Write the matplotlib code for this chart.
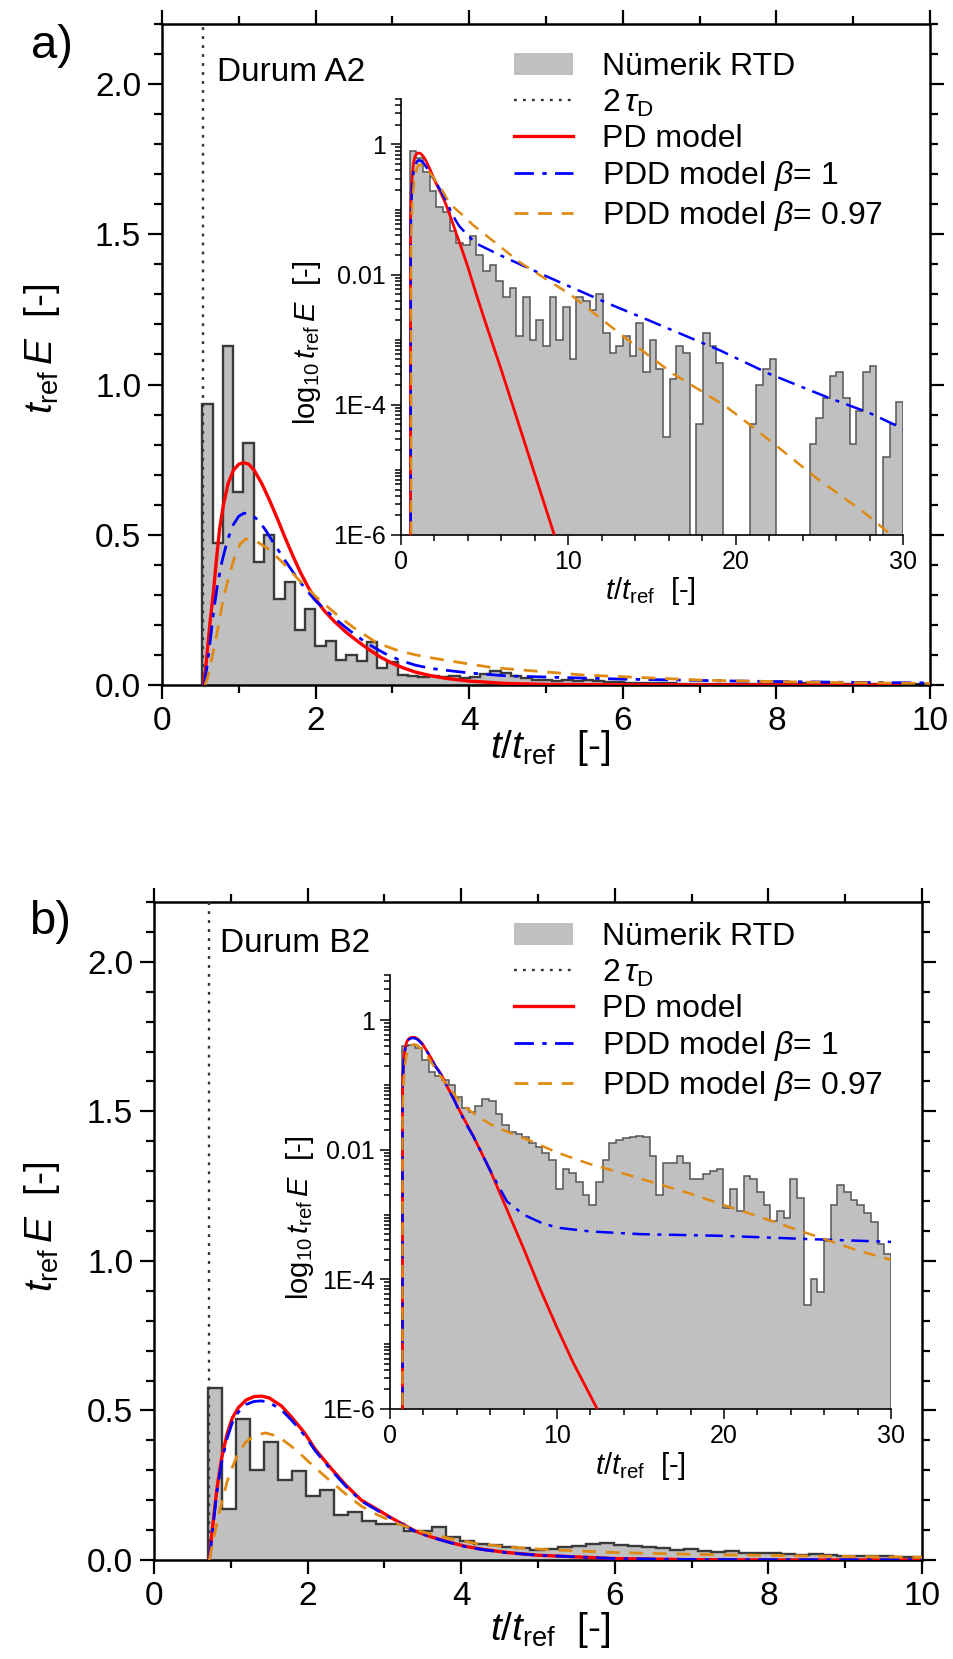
import numpy as np
import matplotlib
matplotlib.use('Agg')
import matplotlib.pyplot as plt
from matplotlib.patches import Patch
from matplotlib.lines import Line2D
from matplotlib.ticker import MultipleLocator, FixedLocator, FixedFormatter, LogLocator, NullFormatter, FormatStrFormatter

plt.rcParams['font.family'] = ['Liberation Sans', 'DejaVu Sans']
plt.rcParams['mathtext.fontset'] = 'custom'
plt.rcParams['mathtext.rm'] = 'Liberation Sans'
plt.rcParams['mathtext.it'] = 'Liberation Sans:italic'
plt.rcParams['mathtext.bf'] = 'Liberation Sans:bold'

# ---------------- data : panel a (Durum A2) ----------------
a_tau = 0.53
a_hist_start = 0.524
a_hist_width = 0.134
a_hist = [0.936, 0.472, 1.128, 0.641, 0.806, 0.409, 0.498, 0.286, 0.343, 0.183,
          0.252, 0.131, 0.147, 0.083, 0.099, 0.080, 0.144, 0.056, 0.078, 0.033,
          0.030, 0.028, 0.030, 0.025, 0.030, 0.024, 0.027, 0.038, 0.045, 0.040,
          0.030, 0.022, 0.018, 0.015, 0.013, 0.016, 0.014, 0.015, 0.012, 0.010,
          0.009, 0.008, 0.007, 0.008, 0.006, 0.006, 0.004, 0.003, 0.004, 0.004,
          0.003, 0.003, 0.002, 0.004, 0.003, 0.003, 0.004, 0.004, 0.005, 0.004,
          0.003, 0.004, 0.003, 0.002, 0.003, 0.002, 0.002, 0.003, 0.002, 0.002,
          0.002]
a_inset_start = 0.52
a_inset_log = [-0.1, -0.21, -0.43, -0.72, -0.96, -1.03, -1.33, -1.52, -1.55, -1.4,
               -1.7, -1.95, -1.85, -2.1, -2.35, -2.2, -2.95, -2.35, -3.0, -2.7,
               -3.1, -2.35, -3.0, -2.5, -3.3, -2.35, -2.4, -2.55, -2.3, -2.9,
               -3.2, -3.1, -2.95, -3.25, -2.75, -3.5, -3.0, -3.45, -4.5, -3.6,
               -3.1, -3.2, np.nan, -4.3, -2.9, -3.1, -3.35, np.nan, np.nan, np.nan,
               np.nan, -4.3, -3.7, -3.45, -3.3, np.nan, np.nan, np.nan, np.nan, np.nan,
               -4.6, -4.2, -3.9, -3.55, -3.5, -3.9, -4.6, -4.1, -3.5, -3.4,
               np.nan, -4.8, -4.3, -3.95]
a_pd_x = [0.54, 0.57, 0.60, 0.63, 0.67, 0.71, 0.75, 0.80, 0.86, 0.93, 1.0, 1.06, 1.13,
          1.2, 1.3, 1.4, 1.5, 1.6, 1.7, 1.8, 1.9, 2.0, 2.12, 2.25, 2.4, 2.55, 2.7,
          2.85, 3.0, 3.15, 3.3, 3.5, 3.7, 4.0, 4.5, 5.0, 6.0, 7.0, 8.0, 9.0, 9.6]
a_pd_y = [0.0, 0.06, 0.14, 0.22, 0.31, 0.42, 0.52, 0.60, 0.67, 0.715, 0.735, 0.74, 0.735,
          0.715, 0.67, 0.615, 0.555, 0.492, 0.432, 0.376, 0.327, 0.285, 0.245, 0.21,
          0.175, 0.145, 0.117, 0.092, 0.072, 0.056, 0.043, 0.031, 0.022, 0.013, 0.005,
          0.002, 3.4e-4, 5.4e-5, 8.5e-6, 1.35e-6, 4.5e-7]
a_pdd1_x = [0.55, 0.58, 0.62, 0.67, 0.72, 0.78, 0.85, 0.92, 1.0, 1.07, 1.15, 1.25, 1.35,
            1.44, 1.6, 1.79, 2.0, 2.27, 2.45, 2.66, 2.9, 3.1, 3.3, 3.5, 4.0, 4.5, 6.0,
            7.5, 9.0, 10.7, 12.5, 14.4, 17.0, 19.1, 22.0, 25.5, 28.0, 30.0]
a_pdd1_y = [0.0, 0.05, 0.13, 0.24, 0.33, 0.41, 0.48, 0.53, 0.562, 0.572, 0.568, 0.55,
            0.515, 0.478, 0.415, 0.345, 0.28, 0.217, 0.18, 0.14, 0.105, 0.082, 0.066,
            0.055, 0.04, 0.03, 0.0195, 0.013, 0.0087, 0.0056, 0.0035, 0.0022, 1.15e-3,
            6.8e-4, 3.0e-4, 1.3e-4, 7.5e-5, 4.3e-5]
a_pdd97_x = [0.56, 0.60, 0.65, 0.70, 0.75, 0.80, 0.87, 0.95, 1.02, 1.09, 1.17, 1.25,
             1.4, 1.6, 1.8, 2.0, 2.27, 2.5, 2.8, 3.1, 3.4, 3.75, 4.3, 5.5, 7.1, 8.5,
             10.1, 11.5, 13.1, 14.7, 16.3, 18.0, 19.5, 21.0, 22.3, 24.8, 27.6, 29.3, 29.6]
a_pdd97_y = [0.0, 0.03, 0.09, 0.15, 0.22, 0.29, 0.36, 0.43, 0.47, 0.486, 0.484, 0.475,
             0.45, 0.40, 0.345, 0.295, 0.235, 0.19, 0.14, 0.112, 0.095, 0.08, 0.058,
             0.033, 0.0155, 0.0091, 0.005, 0.0026, 1.23e-3, 6e-4, 2.95e-4, 1.6e-4,
             9.1e-5, 4.6e-5, 2.5e-5, 7.6e-6, 2.3e-6, 1.0e-6, 8e-7]

# ---------------- data : panel b (Durum B2) ----------------
b_tau = 0.71
b_hist_start = 0.707
b_hist_width = 0.182
b_hist = [0.575, 0.172, 0.472, 0.302, 0.393, 0.268, 0.299, 0.215, 0.234, 0.151,
          0.162, 0.131, 0.122, 0.122, 0.097, 0.097, 0.110, 0.077, 0.062, 0.053,
          0.050, 0.042, 0.040, 0.035, 0.038, 0.042, 0.047, 0.053, 0.058, 0.050,
          0.047, 0.042, 0.040, 0.035, 0.038, 0.030, 0.028, 0.030, 0.025, 0.022,
          0.025, 0.020, 0.018, 0.020, 0.016, 0.015, 0.013, 0.012, 0.012, 0.010,
          0.010, 0.009]
b_inset_start = 0.7
b_inset_log = [-0.4, -0.38, -0.43, -0.62, -0.8, -0.86, -0.92, -1.0, -1.18, -1.35,
               -1.42, -1.33, -1.22, -1.25, -1.45, -1.62, -1.72, -1.75, -1.8, -1.9,
               -1.95, -2.05, -2.15, -2.6, -2.3, -2.35, -2.5, -2.7, -2.85, -2.5,
               -2.15, -1.9, -1.85, -1.82, -1.8, -1.78, -1.8, -2.1, -2.7, -2.2,
               -2.2, -2.1, -2.2, -2.45, -2.45, -2.38, -2.32, -2.3, -2.9, -2.6,
               -2.95, -2.4, -2.45, -2.65, -2.85, -3.1, -2.95, -3.05, -2.45, -2.75,
               -4.4, -4.0, -4.2, -3.4, -2.85, -2.55, -2.65, -2.78, -2.85, -2.97,
               -3.12, -3.45, -3.6]
b_pd_x = [0.72, 0.75, 0.78, 0.82, 0.88, 0.95, 1.02, 1.1, 1.2, 1.3, 1.4, 1.5, 1.66, 1.8,
          1.96, 2.1, 2.31, 2.5, 2.7, 2.9, 3.05, 3.2, 3.4, 3.6, 3.84, 4.05, 4.27, 4.6,
          5.0, 6.0, 7.0, 8.0, 9.0, 10.0, 11.0, 12.0, 12.6]
b_pd_y = [0.0, 0.08, 0.15, 0.24, 0.34, 0.42, 0.475, 0.51, 0.535, 0.546, 0.548, 0.542,
          0.515, 0.475, 0.425, 0.37, 0.305, 0.25, 0.20, 0.17, 0.147, 0.125, 0.097, 0.078,
          0.06, 0.046, 0.036, 0.025, 0.016, 4.8e-3, 1.2e-3, 3.0e-4, 7e-5, 1.8e-5, 5e-6,
          1.6e-6, 8e-7]
b_pdd1_x = [0.72, 0.75, 0.78, 0.82, 0.88, 0.95, 1.02, 1.1, 1.2, 1.3, 1.4, 1.5, 1.66, 1.8,
            1.96, 2.1, 2.31, 2.5, 2.7, 2.9, 3.05, 3.2, 3.4, 3.6, 3.84, 4.05, 4.27, 4.6,
            5.0, 6.0, 7.0, 8.0, 9.0, 10.0, 12.0, 15.0, 20.0, 25.0, 30.0]
b_pdd1_y = [0.0, 0.07, 0.14, 0.23, 0.325, 0.405, 0.46, 0.495, 0.52, 0.53, 0.532, 0.527,
            0.502, 0.465, 0.417, 0.365, 0.3, 0.246, 0.197, 0.167, 0.145, 0.123, 0.096,
            0.077, 0.059, 0.045, 0.035, 0.024, 0.016, 4.8e-3, 1.6e-3, 1.0e-3, 7.6e-4,
            6.3e-4, 5.5e-4, 5.0e-4, 4.7e-4, 4.2e-4, 3.8e-4]
b_pdd97_x = [0.72, 0.75, 0.80, 0.88, 0.95, 1.02, 1.1, 1.2, 1.3, 1.45, 1.55, 1.66, 1.84,
             2.05, 2.27, 2.5, 2.7, 2.9, 3.12, 3.35, 3.55, 3.85, 4.2, 4.6, 5.1, 6.0, 7.1,
             8.5, 10.0, 12.0, 14.0, 16.0, 18.0, 20.0, 22.0, 24.0, 26.0, 28.0, 30.0]
b_pdd97_y = [0.0, 0.04, 0.10, 0.19, 0.26, 0.31, 0.36, 0.395, 0.415, 0.425, 0.418, 0.405,
             0.37, 0.32, 0.27, 0.22, 0.18, 0.152, 0.127, 0.105, 0.09, 0.072, 0.055, 0.044,
             0.035, 0.025, 0.0186, 0.0135, 0.0091, 0.006, 0.0043, 0.003, 0.0021, 1.4e-3,
             9.5e-4, 6.3e-4, 4.2e-4, 2.8e-4, 2.0e-4]

legend_labels = ['Nümerik RTD', r'2$\,\tau_{\mathrm{D}}$', 'PD model',
                 r'PDD model $\beta$= 1', r'PDD model $\beta$= 0.97']
inset_ytick_vals = [1e-6, 1e-4, 1e-2, 1]
inset_ytick_labels = ['1E-6', '1E-4', '0.01', '1']

# ---------------- styles ----------------
W, H = 954, 1659
FILL = '#c0c0c0'
EDGE = '#3a3a3a'
RED = '#ff0000'
BLUE = '#0000ff'
ORANGE = '#e08a12'
DASHDOT = (0, (7, 3, 1.6, 3))
DASHED = (0, (5, 3.5))
DOTTED = (0, (1.2, 2.6))

fig = plt.figure(figsize=(W / 100, H / 100), dpi=100)


def frac_rect(l, t, r, b):
    return [l / W, 1 - b / H, (r - l) / W, (b - t) / H]


def draw_panel(main_px, inset_px, tau, hs, hw, hv, istart, ilog, curves, durum,
               durum_xy, letter, letter_px, ylab_px, xlab_px, leg_px,
               iylab_px, ixlab_px):
    ax = fig.add_axes(frac_rect(*main_px))
    edges = hs + hw * np.arange(len(hv) + 1)
    ax.stairs(hv, edges, baseline=0, fill=True, color=FILL, zorder=1)
    ax.stairs(hv, edges, baseline=0, color=EDGE, lw=1.7, zorder=2)
    ax.axvline(tau, color='#333333', ls=DOTTED, lw=1.7, zorder=3)
    (px, py), (bx, by), (ox, oy) = curves
    ax.plot(px, py, color=RED, lw=2.4, zorder=4)
    ax.plot(bx, by, color=BLUE, lw=2.0, ls=DASHDOT, zorder=5)
    ax.plot(ox, oy, color=ORANGE, lw=2.0, ls=DASHED, zorder=6)
    ax.set_xlim(0, 10)
    ax.set_ylim(0, 2.2)
    ax.xaxis.set_major_locator(MultipleLocator(2))
    ax.xaxis.set_minor_locator(MultipleLocator(1))
    ax.yaxis.set_major_locator(MultipleLocator(0.5))
    ax.yaxis.set_minor_locator(MultipleLocator(0.1))
    ax.yaxis.set_major_formatter(FormatStrFormatter('%.1f'))
    ax.tick_params(which='both', direction='out', top=True, right=True,
                   width=1.6, labelsize=24)
    ax.tick_params(which='major', length=10, pad=5)
    ax.tick_params(which='minor', length=6)
    for s in ax.spines.values():
        s.set_linewidth(1.8)
    ax.text(durum_xy[0], durum_xy[1], durum, fontsize=24, va='center', ha='left')

    fig.text(letter_px[0] / W, 1 - letter_px[1] / H, letter, fontsize=34,
             ha='center', va='center')
    fig.text(ylab_px[0] / W, 1 - ylab_px[1] / H, r'$t_{\mathrm{ref}}\,E$  [-]',
             fontsize=28, rotation=90, ha='center', va='center')
    fig.text(xlab_px[0] / W, 1 - xlab_px[1] / H, r'$t/t_{\mathrm{ref}}$  [-]',
             fontsize=28, ha='center', va='center')

    # inset
    axi = fig.add_axes(frac_rect(*inset_px))
    axi.patch.set_alpha(0)
    ie = np.linspace(istart, 30, len(ilog) + 1)
    iv = np.where(np.isnan(ilog), 1e-9, 10.0 ** np.array(ilog, dtype=float))
    axi.set_yscale('log')
    axi.stairs(iv, ie, baseline=1e-9, fill=True, color=FILL, zorder=1)
    axi.stairs(iv, ie, baseline=1e-9, color='#555555', lw=1.1, zorder=2)
    axi.plot(px, py, color=RED, lw=2.0, zorder=4)
    axi.plot(bx, by, color=BLUE, lw=1.8, ls=DASHDOT, zorder=5)
    axi.plot(ox, oy, color=ORANGE, lw=1.8, ls=DASHED, zorder=6)
    axi.set_xlim(0, 30)
    axi.set_ylim(1e-6, 5)
    axi.xaxis.set_major_locator(MultipleLocator(10))
    axi.xaxis.set_minor_locator(MultipleLocator(2))
    axi.yaxis.set_major_locator(FixedLocator(inset_ytick_vals))
    axi.yaxis.set_major_formatter(FixedFormatter(inset_ytick_labels))
    axi.yaxis.set_minor_locator(LogLocator(base=10, subs=np.arange(1, 10), numticks=50))
    axi.yaxis.set_minor_formatter(NullFormatter())
    axi.spines['top'].set_visible(False)
    axi.spines['right'].set_visible(False)
    for s in ('left', 'bottom'):
        axi.spines[s].set_linewidth(1.2)
    axi.tick_params(which='both', direction='out', width=1.1, labelsize=18)
    axi.tick_params(which='major', length=7, pad=4)
    axi.tick_params(which='minor', length=4)
    fig.text(iylab_px[0] / W, 1 - iylab_px[1] / H,
             r'$\log_{10}t_{\mathrm{ref}}\,E$  [-]', fontsize=21, rotation=90,
             ha='center', va='center')
    fig.text(ixlab_px[0] / W, 1 - ixlab_px[1] / H, r'$t/t_{\mathrm{ref}}$  [-]',
             fontsize=21, ha='center', va='center')

    handles = [Patch(facecolor=FILL, edgecolor='none'),
               Line2D([], [], color='#333333', ls=DOTTED, lw=1.7),
               Line2D([], [], color=RED, lw=2.4),
               Line2D([], [], color=BLUE, lw=2.0, ls=DASHDOT),
               Line2D([], [], color=ORANGE, lw=2.0, ls=DASHED)]
    fig.legend(handles, legend_labels, loc='upper left',
               bbox_to_anchor=(leg_px[0] / W, 1 - leg_px[1] / H),
               frameon=False, fontsize=23, handlelength=1.85, handletextpad=0.9,
               labelspacing=0.17, borderpad=0, borderaxespad=0)
    return ax, axi


draw_panel((162, 24, 930, 685), (401, 99, 903, 535), a_tau, a_hist_start, a_hist_width,
           a_hist, a_inset_start, a_inset_log,
           ((a_pd_x, a_pd_y), (a_pdd1_x, a_pdd1_y), (a_pdd97_x, a_pdd97_y)),
           'Durum A2', (0.72, 2.04), 'a)', (52, 46), (42, 349), (550, 748),
           (514, 52), (307, 343), (650, 591))

draw_panel((154, 902, 922, 1560), (390, 975, 891, 1409), b_tau, b_hist_start, b_hist_width,
           b_hist, b_inset_start, b_inset_log,
           ((b_pd_x, b_pd_y), (b_pdd1_x, b_pdd1_y), (b_pdd97_x, b_pdd97_y)),
           'Durum B2', (0.86, 2.06), 'b)', (50, 922), (42, 1227), (550, 1630),
           (514, 922), (300, 1218), (640, 1466))

fig.savefig('out.png', dpi=100)
